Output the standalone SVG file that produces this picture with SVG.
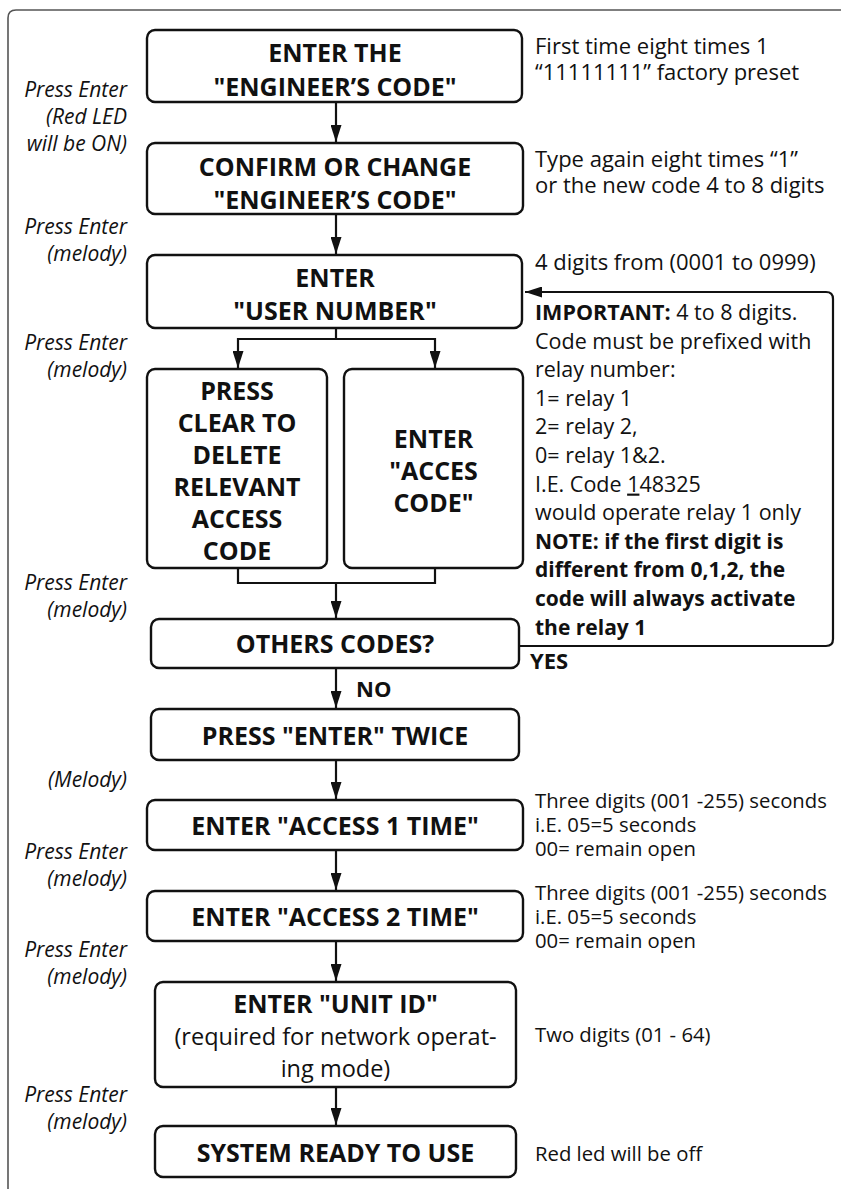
<svg xmlns="http://www.w3.org/2000/svg" width="841" height="1189" viewBox="0 0 841 1189">
  <style>
    text { font-family: "Open Sans", "Noto Sans", sans-serif; fill: #111; }
    .box { fill: #fff; stroke: #111; stroke-width: 2.4; }
    .t { font-weight: 700; font-size: 25px; text-anchor: middle; }
    .r { font-weight: 400; font-size: 23.5px; text-anchor: middle; }
    .lab { font-style: italic; font-size: 21px; text-anchor: end; }
    .info { font-size: 22px; }
    .imp { font-size: 21.5px; }
    .nb { font-size: 21px; font-weight: 700; }
    .sm { font-size: 20.3px; }
    .bold { font-weight: 700; }
    .yn { font-weight: 700; font-size: 22px; }
    .wire { fill: none; stroke: #111; stroke-width: 2.2; }
    .frame { fill: none; stroke: #555; stroke-width: 1.6; }
  </style>
  <defs>
    <marker id="arrow" viewBox="0 0 17 11" refX="17" refY="5.5" markerWidth="17" markerHeight="11" markerUnits="userSpaceOnUse" orient="auto">
      <path d="M0,0 L17,5.5 L0,11 Z" fill="#111"/>
    </marker>
  </defs>

  <!-- page frame -->
  <path class="frame" d="M8,1189 V18 Q8,10 16,10 H841"/>

  <!-- connectors -->
  <g id="connectors">
    <line class="wire" x1="336" y1="102" x2="336" y2="142" marker-end="url(#arrow)"/>
    <line class="wire" x1="336" y1="214" x2="336" y2="254" marker-end="url(#arrow)"/>
    <path class="wire" d="M336,328 V339"/>
    <path class="wire" d="M238,339 H435"/>
    <line class="wire" x1="238" y1="338" x2="238" y2="368" marker-end="url(#arrow)"/>
    <line class="wire" x1="435" y1="338" x2="435" y2="368" marker-end="url(#arrow)"/>
    <path class="wire" d="M238,568 V583 H435 V568"/>
    <line class="wire" x1="336" y1="583" x2="336" y2="618" marker-end="url(#arrow)"/>
    <line class="wire" x1="336" y1="668" x2="336" y2="708" marker-end="url(#arrow)"/>
    <line class="wire" x1="336" y1="760" x2="336" y2="799" marker-end="url(#arrow)"/>
    <line class="wire" x1="336" y1="850" x2="336" y2="890" marker-end="url(#arrow)"/>
    <line class="wire" x1="336" y1="941" x2="336" y2="981" marker-end="url(#arrow)"/>
    <line class="wire" x1="336" y1="1087" x2="336" y2="1125" marker-end="url(#arrow)"/>
    <!-- YES loop back to user number -->
    <path class="wire" d="M519,646 H826 Q833,646 833,639 V299 Q833,292 826,292 H525" marker-end="url(#arrow)"/>
    <text class="yn" x="356" y="697">NO</text>
    <text class="yn" x="530" y="669">YES</text>
  </g>

  <!-- step boxes -->
  <g id="engineer-code">
    <rect class="box" x="147" y="30" width="375" height="72" rx="8"/>
    <text class="t" x="335" y="62">ENTER THE</text>
    <text class="t" x="335" y="96">"ENGINEER’S CODE"</text>
  </g>
  <g id="confirm-code">
    <rect class="box" x="147" y="143" width="376" height="71" rx="8"/>
    <text class="t" x="335" y="176">CONFIRM OR CHANGE</text>
    <text class="t" x="335" y="209">"ENGINEER’S CODE"</text>
  </g>
  <g id="user-number">
    <rect class="box" x="147" y="255" width="375" height="73" rx="8"/>
    <text class="t" x="335" y="287">ENTER</text>
    <text class="t" x="335" y="320">"USER NUMBER"</text>
  </g>
  <g id="clear-code">
    <rect class="box" x="147" y="369" width="180" height="199" rx="8"/>
    <text class="t" x="237" y="400">PRESS</text>
    <text class="t" x="237" y="432">CLEAR TO</text>
    <text class="t" x="237" y="464">DELETE</text>
    <text class="t" x="237" y="496">RELEVANT</text>
    <text class="t" x="237" y="528">ACCESS</text>
    <text class="t" x="237" y="560">CODE</text>
  </g>
  <g id="access-code">
    <rect class="box" x="344" y="369" width="179" height="199" rx="8"/>
    <text class="t" x="433.5" y="448">ENTER</text>
    <text class="t" x="433.5" y="480">"ACCES</text>
    <text class="t" x="433.5" y="512">CODE"</text>
  </g>
  <g id="others-codes">
    <rect class="box" x="151" y="619" width="368" height="49" rx="8"/>
    <text class="t" x="335" y="653">OTHERS CODES?</text>
  </g>
  <g id="enter-twice">
    <rect class="box" x="151" y="709" width="368" height="51" rx="8"/>
    <text class="t" x="335" y="745">PRESS "ENTER" TWICE</text>
  </g>
  <g id="access1-time">
    <rect class="box" x="147" y="800" width="376" height="50" rx="8"/>
    <text class="t" x="335" y="835">ENTER "ACCESS 1 TIME"</text>
  </g>
  <g id="access2-time">
    <rect class="box" x="147" y="891" width="376" height="50" rx="8"/>
    <text class="t" x="335" y="926">ENTER "ACCESS 2 TIME"</text>
  </g>
  <g id="unit-id">
    <rect class="box" x="155" y="982" width="361" height="105" rx="8"/>
    <text class="t" x="335.5" y="1013">ENTER "UNIT ID"</text>
    <text class="r" x="335.5" y="1045">(required for network operat-</text>
    <text class="r" x="335.5" y="1077">ing mode)</text>
  </g>
  <g id="system-ready">
    <rect class="box" x="155" y="1126" width="361" height="51" rx="8"/>
    <text class="t" x="335.5" y="1162">SYSTEM READY TO USE</text>
  </g>

  <!-- key actions, left column -->
  <g id="actions">
    <text class="lab" x="127" y="97">Press Enter</text>
    <text class="lab" x="127" y="124">(Red LED</text>
    <text class="lab" x="127" y="151">will be ON)</text>
    <text class="lab" x="127" y="234">Press Enter</text>
    <text class="lab" x="127" y="261">(melody)</text>
    <text class="lab" x="127" y="350">Press Enter</text>
    <text class="lab" x="127" y="377">(melody)</text>
    <text class="lab" x="127" y="590">Press Enter</text>
    <text class="lab" x="127" y="617">(melody)</text>
    <text class="lab" x="127" y="787">(Melody)</text>
    <text class="lab" x="127" y="859">Press Enter</text>
    <text class="lab" x="127" y="886">(melody)</text>
    <text class="lab" x="127" y="957">Press Enter</text>
    <text class="lab" x="127" y="984">(melody)</text>
    <text class="lab" x="127" y="1102">Press Enter</text>
    <text class="lab" x="127" y="1129">(melody)</text>
  </g>

  <!-- notes, right column -->
  <g id="notes">
    <text class="info" x="535" y="54">First time eight times 1</text>
    <text class="info" x="535" y="80">“11111111” factory preset</text>
    <text class="info" x="535" y="167">Type again eight times “1”</text>
    <text class="info" x="535" y="193">or the new code 4 to 8 digits</text>
    <text class="info" x="535" y="270">4 digits from (0001 to 0999)</text>
    <text class="imp" x="535" y="320"><tspan class="bold">IMPORTANT:</tspan> 4 to 8 digits.</text>
    <text class="imp" x="535" y="348.6">Code must be prefixed with</text>
    <text class="imp" x="535" y="377.2">relay number:</text>
    <text class="imp" x="535" y="405.8">1= relay 1</text>
    <text class="imp" x="535" y="434.4">2= relay 2,</text>
    <text class="imp" x="535" y="463">0= relay 1&amp;2.</text>
    <text class="imp" x="535" y="491.6">I.E. Code <tspan text-decoration="underline">1</tspan>48325</text>
    <text class="imp" x="535" y="520.2">would operate relay 1 only</text>
    <text class="nb" x="535" y="548.8">NOTE: if the first digit is</text>
    <text class="nb" x="535" y="577.4">different from 0,1,2, the</text>
    <text class="nb" x="535" y="606">code will always activate</text>
    <text class="nb" x="535" y="634.6">the relay 1</text>
    <text class="sm" x="535" y="808">Three digits (001 -255) seconds</text>
    <text class="sm" x="535" y="832">i.E. 05=5 seconds</text>
    <text class="sm" x="535" y="856">00= remain open</text>
    <text class="sm" x="535" y="900">Three digits (001 -255) seconds</text>
    <text class="sm" x="535" y="924">i.E. 05=5 seconds</text>
    <text class="sm" x="535" y="948">00= remain open</text>
    <text class="sm" x="535" y="1042">Two digits (01 - 64)</text>
    <text class="sm" x="535" y="1161">Red led will be off</text>
  </g>
</svg>
